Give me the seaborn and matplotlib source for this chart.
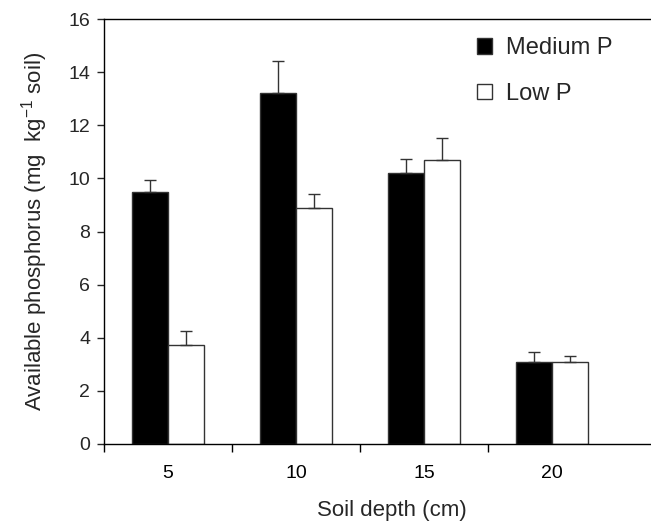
import matplotlib
matplotlib.use("Agg")
import matplotlib.pyplot as plt
import seaborn as sns
import pandas as pd
import numpy as np
from matplotlib.patches import Patch

depths = ["5", "10", "15", "20"]
treatments = ["Medium P", "Low P"]
medium_p = [9.48, 13.23, 10.19, 3.09]
medium_p_err = [0.45, 1.19, 0.55, 0.36]
low_p = [3.74, 8.90, 10.70, 3.09]
low_p_err = [0.53, 0.52, 0.81, 0.22]

sns.set_theme(style="white")
plt.rcParams['font.family'] = ['Liberation Sans', 'DejaVu Sans']
plt.rcParams['mathtext.fontset'] = 'custom'
plt.rcParams['mathtext.rm'] = 'Liberation Sans'
plt.rcParams['mathtext.it'] = 'Liberation Sans:italic'

df = pd.DataFrame({
    "depth": depths * 2,
    "treatment": [treatments[0]] * 4 + [treatments[1]] * 4,
    "value": medium_p + low_p,
})
errs = {treatments[0]: medium_p_err, treatments[1]: low_p_err}
colors = {"Medium P": "black", "Low P": "white"}

fig = plt.figure(figsize=(6.51, 5.23), dpi=100)
W, H = 651, 523
ax = fig.add_axes([104 / W, (H - 444) / H, (680 - 104) / W, 425 / H])

sns.barplot(data=df, x="depth", y="value", hue="treatment", order=depths,
            hue_order=treatments, palette=colors, edgecolor="#333333",
            linewidth=1.0, width=0.57, gap=0, errorbar=None, legend=False, ax=ax)

for cont, t in zip(ax.containers, treatments):
    xs = [b.get_x() + b.get_width() / 2 for b in cont]
    hs = [b.get_height() for b in cont]
    e = errs[t]
    ax.errorbar(xs, hs, yerr=[np.zeros(len(e)), e], fmt="none", ecolor="#333333",
                elinewidth=1.0, capsize=4.3, capthick=1.0, zorder=1)

ax.set_ylim(0, 16)
ax.set_yticks(np.arange(0, 17, 2))
ax.set_xlim(-0.5, -0.5 + (680 - 104) / 128)
ax.set_xticks(range(4))
ax.set_xticklabels(depths)
ax.set_xticks([-0.5, 0.5, 1.5, 2.5], minor=True)
ax.tick_params(axis="x", which="major", length=0, pad=15, labelsize=14, colors="black")
ax.tick_params(axis="x", which="minor", length=6, width=1, direction="out", bottom=True, color="black")
ax.tick_params(axis="y", which="major", length=5, width=1, direction="out", left=True, labelsize=14, pad=5)

for s in ["left", "bottom", "top"]:
    ax.spines[s].set_visible(True)
    ax.spines[s].set_color("black")
    ax.spines[s].set_linewidth(1.0)
ax.spines["right"].set_visible(False)

ax.set_xlabel("Soil depth (cm)", fontsize=16, labelpad=13)
ax.set_ylabel(r"Available phosphorus (mg  kg$^{-1}$ soil)", fontsize=16, labelpad=13)

handles = [Patch(facecolor=colors[t], edgecolor="#333333", linewidth=1.0) for t in treatments]
fig.legend(handles, treatments, loc="upper left", bbox_to_anchor=(477 / W, 1 - 37 / H),
           frameon=False, fontsize=17, handlelength=0.64, handleheight=0.64,
           handletextpad=0.6, labelspacing=1.0, borderpad=0, borderaxespad=0)

fig.savefig("out.png", dpi=100)
